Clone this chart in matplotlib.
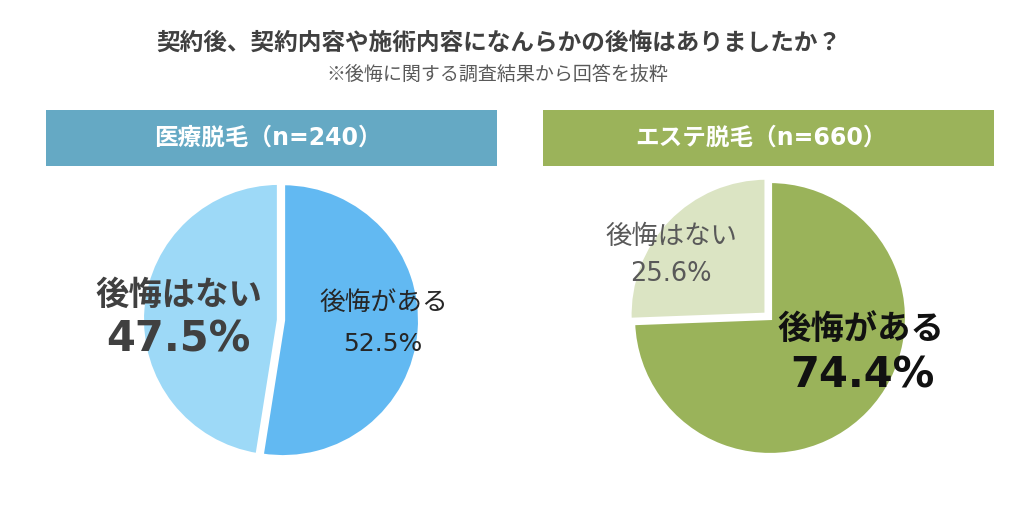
import matplotlib
matplotlib.use("Agg")
import matplotlib.pyplot as plt
from matplotlib.patches import Rectangle

plt.rcParams['font.family'] = ['Noto Sans CJK JP', 'DejaVu Sans']

W, H = 1024, 531

title = "契約後、契約内容や施術内容になんらかの後悔はありましたか？"
subtitle = "※後悔に関する調査結果から回答を抜粋"

groups = ["医療脱毛（n=240）", "エステ脱毛（n=660）"]
categories = ["後悔がある", "後悔はない"]
medical_values = [52.5, 47.5]
esthe_values = [74.4, 25.6]

fig = plt.figure(figsize=(W / 100, H / 100), dpi=100)
fig.patch.set_facecolor("white")

NUM = ['DejaVu Sans']
MIX = ['DejaVu Sans', 'Noto Sans CJK JP']


def fx(x):
    return x / W


def fy(y):
    return 1 - y / H


def ftext(x, y, s, **kw):
    fig.text(fx(x), fy(y), s, ha="center", va="center", **kw)


# Titles
ftext(499, 43, title, fontsize=17, fontweight="bold", color="#404040")
ftext(497, 74, subtitle, fontsize=13.7, color="#595959")

# Header bars
headers = [(46, 110, 451, 56, "#65A9C4", groups[0], 268),
           (543, 110, 451, 56, "#9BB35A", groups[1], 761)]
for x0, y0, w, h, c, label, cx in headers:
    fig.patches.append(Rectangle((fx(x0), fy(y0 + h)), w / W, h / H,
                                 transform=fig.transFigure, facecolor=c,
                                 edgecolor="none"))
    ftext(cx, y0 + h / 2, label, fontsize=17, fontweight="bold", color="white",
          family=MIX)


def draw_pie(cx, cy, r, values, colors, explode):
    pad = 1.1
    size = 2 * r * pad
    ax = fig.add_axes([fx(cx - size / 2), fy(cy + size / 2), size / W, size / H])
    ax.pie(values, colors=colors, startangle=90, counterclock=False,
           explode=explode, radius=1.0,
           wedgeprops=dict(edgecolor="white", linewidth=3))
    ax.set_xlim(-pad, pad)
    ax.set_ylim(-pad, pad)
    ax.set_aspect("equal")
    ax.axis("off")


draw_pie(281, 320, 137, medical_values, ["#62B9F2", "#9DD9F7"], [0.015, 0.015])
draw_pie(770, 318, 137, esthe_values, ["#9AB35A", "#DBE4C3"], [0.0, 0.035])

# Labels - medical
ftext(179, 295, categories[1], fontsize=24, fontweight="bold", color="#404040")
ftext(178, 340, f"{medical_values[1]}%", fontsize=30, fontweight="bold",
      color="#404040", family=NUM)
ftext(384, 303, categories[0], fontsize=18.5, color="#262626")
ftext(383, 344, f"{medical_values[0]}%", fontsize=18, color="#262626", family=NUM)

# Labels - esthe
ftext(671, 236, categories[1], fontsize=19, color="#595959")
ftext(671, 274, f"{esthe_values[1]}%", fontsize=18.5, color="#595959", family=NUM)
ftext(861, 330, categories[0], fontsize=24, fontweight="bold", color="#111111")
ftext(862, 376, f"{esthe_values[0]}%", fontsize=30, fontweight="bold",
      color="#111111", family=NUM)

fig.savefig("out.png", dpi=100)
